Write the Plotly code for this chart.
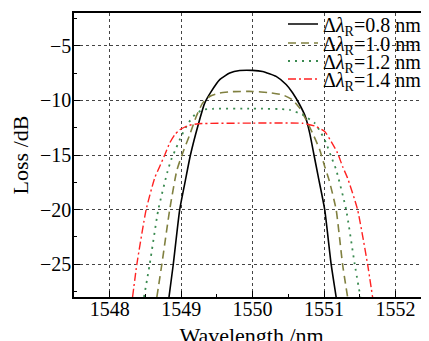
import plotly.graph_objects as go

# ---- data ----
labels = ["0.8", "1.0", "1.2", "1.4"]

x_08 = [1548.83, 1548.89, 1548.98, 1549.06, 1549.13, 1549.24, 1549.33, 1549.42, 1549.54,
        1549.68, 1549.82, 1550.00, 1550.14, 1550.33, 1550.47, 1550.56, 1550.66, 1550.74,
        1550.80, 1550.86, 1550.92, 1551.01, 1551.10, 1551.17]
y_08 = [-28.0, -25.0, -20.0, -17.3, -15.0, -12.2, -10.25, -9.2, -8.1,
        -7.5, -7.27, -7.25, -7.35, -7.8, -8.55, -9.3, -10.4, -11.5,
        -13.0, -15.0, -17.0, -20.0, -25.0, -28.0]

x_10 = [1548.66, 1548.73, 1548.84, 1548.94, 1549.04, 1549.12, 1549.21, 1549.30, 1549.40,
        1549.54, 1549.72, 1550.00, 1550.24, 1550.42, 1550.56, 1550.66, 1550.75, 1550.84,
        1550.94, 1551.01, 1551.07, 1551.17, 1551.26, 1551.33]
y_10 = [-28.0, -25.0, -20.0, -16.4, -14.5, -13.15, -11.5, -10.25, -9.64,
        -9.33, -9.2, -9.18, -9.3, -9.49, -9.95, -10.71, -11.78, -13.0,
        -14.52, -16.05, -17.27, -20.0, -25.0, -28.0]

x_12 = [1548.48, 1548.56, 1548.68, 1548.81, 1548.86, 1548.93, 1549.00, 1549.10, 1549.19,
        1549.30, 1549.44, 1550.00, 1550.52, 1550.70, 1550.87, 1550.96, 1551.03, 1551.10,
        1551.17, 1551.31, 1551.43, 1551.51]
y_12 = [-28.0, -25.0, -20.0, -16.5, -15.44, -14.37, -13.3, -12.08, -11.32,
        -10.86, -10.77, -10.75, -10.86, -11.32, -12.08, -13.0, -13.91, -15.14,
        -16.35, -20.0, -25.0, -28.0]

x_14 = [1548.32, 1548.38, 1548.51, 1548.63, 1548.70, 1548.77, 1548.84, 1548.91, 1548.98,
        1549.10, 1549.24, 1550.00, 1550.70, 1550.89, 1551.01, 1551.10, 1551.19, 1551.26,
        1551.33, 1551.47, 1551.61, 1551.68]
y_14 = [-28.0, -25.0, -20.0, -17.1, -16.05, -15.0, -13.9, -13.15, -12.69,
        -12.3, -12.14, -12.08, -12.1, -12.39, -12.85, -13.76, -14.82, -16.05,
        -17.11, -20.0, -25.0, -28.0]

x_ticks = [1548, 1549, 1550, 1551, 1552]
y_ticks = [-5, -10, -15, -20, -25]

# ---- styles ----
FONT = "Liberation Serif, Times New Roman, DejaVu Serif, serif"
series = [
    (x_08, y_08, "#000000", "solid", 1.6),
    (x_10, y_10, "#808040", "8px,5px", 1.6),
    (x_12, y_12, "#3a8a50", "2px,5px", 1.8),
    (x_14, y_14, "#ff2222", "8px,3px,2px,3px", 1.4),
]
legend_ids = ["legend", "legend2", "legend3", "legend4"]

# page body has an 8px margin, so the figure is drawn offset by (8, 8)
OFF = 8
W, H = 421, 341
PL, PR, PT, PB = 66, 0, 5, 52
pw = W - PL - PR
ph = H - PT - PB

def px(sx):  # screen x -> paper x
    return (sx - OFF - PL) / pw

def py(sy):  # screen y -> paper y
    return (H - PB - (sy - OFF)) / ph

row_pix = [24, 43, 61, 79]

fig = go.Figure()
for (xs, ys, col, dash, w), lab, lid in zip(series, labels, legend_ids):
    fig.add_trace(go.Scatter(
        x=xs, y=ys, mode="lines",
        line=dict(color=col, dash=dash, width=w, shape="spline", smoothing=0.5),
        name="Δ<i>λ</i><sub>R</sub>=" + lab + " nm",
        legend=lid,
    ))

leg_common = dict(
    font=dict(family=FONT, size=20, color="black"),
    bgcolor="rgba(0,0,0,0)", borderwidth=0,
    xanchor="left", yanchor="middle", x=px(283),
    itemwidth=30,
)
layout_legends = {}
for lid, rp in zip(legend_ids, row_pix):
    layout_legends[lid] = dict(leg_common, y=py(rp))

axis_common = dict(
    showline=True, linecolor="black", linewidth=1.5,
    ticks="inside", ticklen=6, tickwidth=1.2, tickcolor="black",
    showgrid=True, gridcolor="#444444", gridwidth=1, griddash="3px,3px",
    zeroline=False, automargin=False,
    tickfont=dict(family=FONT, size=20, color="black"),
)

fig.update_layout(
    width=W, height=H,
    margin=dict(l=PL, r=PR, t=PT, b=PB, autoexpand=False),
    paper_bgcolor="white", plot_bgcolor="white",
    showlegend=True,
    font=dict(family=FONT),
    shapes=[
        dict(type="rect", xref="paper", yref="paper", x0=px(293), x1=1.0,
             y0=py(92), y1=1.0, fillcolor="white", line=dict(width=0), layer="between"),
        dict(type="rect", xref="paper", yref="paper", x0=px(328), x1=1.0,
             y0=py(106), y1=py(92), fillcolor="white", line=dict(width=0), layer="between"),
    ],
    **layout_legends,
)
fig.update_xaxes(
    range=[1547.5, 1552.47], tickvals=x_ticks, ticktext=[str(v) for v in x_ticks],
    mirror=True, ticklabelstandoff=-7,
    minor=dict(dtick=0.5, tick0=1547.5, ticks="inside", ticklen=3.5, tickcolor="black", showgrid=False),
    title=dict(text="Wavelength /nm", font=dict(family=FONT, size=22, color="black"), standoff=9),
    **axis_common,
)
fig.update_yaxes(
    range=[-28, -2], tickvals=y_ticks, ticklabelstandoff=-3,
    minor=dict(dtick=2.5, tick0=0, ticks="inside", ticklen=3.5, tickcolor="black", showgrid=False),
    title=dict(text="Loss /dB", font=dict(family=FONT, size=22, color="black"), standoff=10),
    **axis_common,
)

fig.write_html("out.html")
